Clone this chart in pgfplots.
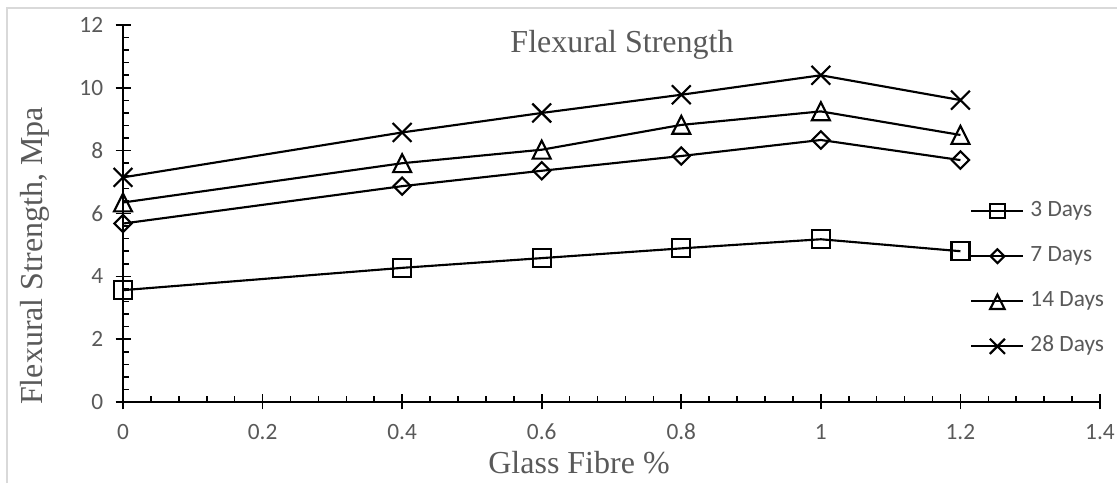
\documentclass[border=0pt]{standalone}
\usepackage{fontspec}
\setmainfont{Liberation Serif}
\newfontfamily\carlito{Carlito}
\usepackage{pgfplots}
\pgfplotsset{compat=1.18}
\definecolor{txtgray}{HTML}{595959}
\definecolor{bordergray}{HTML}{D9D9D9}
\begin{document}
\begin{tikzpicture}
\path[use as bounding box] (0,0) rectangle (837.75pt,362.25pt);
\draw[bordergray, line width=1.5pt] (5.25pt,0) -- (5.25pt,356.25pt) -- (837.75pt,356.25pt);
\begin{axis}[
  at={(92.25pt,60.75pt)}, anchor=south west,
  scale only axis, width=732.75pt, height=282.75pt,
  xmin=0, xmax=1.4, ymin=0, ymax=12,
  axis x line=bottom, axis y line=left,
  x axis line style={-, line width=1.2pt},
  y axis line style={-, line width=2pt},
  xtick distance=0.2, ytick distance=2,
  minor x tick num=4, minor y tick num=4,
  tick align=inside,
  major tick length=11.25pt, minor tick length=4.5pt,
  every major x tick/.append style={yshift=-5.6pt},
  every major y tick/.append style={xshift=-5.6pt},
  tick style={black, line width=1.2pt},
  /pgf/number format/assume math mode=true,
  ticklabel style={font=\carlito\fontsize{17.5}{20}\selectfont, text=txtgray},
  xticklabel style={yshift=-13pt},
  yticklabel style={xshift=-11.4pt},
  legend style={at={(0.867,0.5335)}, anchor=north west, draw=none, fill=none,
    font=\carlito\fontsize{17.5}{20}\selectfont, text=txtgray,
    inner sep=0pt, row sep=18.8pt,
    nodes={inner sep=0pt, text height=11.5pt, text depth=3.5pt},
    /tikz/column 1/.style={column sep=4.5pt}},
  legend cell align=left,
  legend image code/.code={\draw[mark repeat=2,mark phase=2,#1,every mark/.append style={scale=0.8}] plot coordinates {(0pt,0pt) (19.5pt,0pt) (39pt,0pt)};},
  every axis plot/.append style={black, line width=1.6pt, mark options={solid}},
]
\addplot[mark=square, mark size=6.75pt] coordinates {(0,3.56) (0.4,4.27) (0.6,4.58) (0.8,4.89) (1.0,5.18) (1.2,4.8)};
\addlegendentry{3 Days}
\addplot[mark=square, mark size=4.6pt, every mark/.append style={rotate=45}] coordinates {(0,5.68) (0.4,6.87) (0.6,7.36) (0.8,7.83) (1.0,8.34) (1.2,7.7)};
\addlegendentry{7 Days}
\addplot[mark=triangle, mark size=7.8pt, every mark/.append style={yscale=1.15, yshift=-1.9pt}] coordinates {(0,6.35) (0.4,7.6) (0.6,8.03) (0.8,8.82) (1.0,9.25) (1.2,8.5)};
\addlegendentry{14 Days}
\addplot[mark=x, mark size=10pt] coordinates {(0,7.15) (0.4,8.58) (0.6,9.2) (0.8,9.78) (1.0,10.4) (1.2,9.61)};
\addlegendentry{28 Days}
\end{axis}
\node[anchor=base, font=\fontsize{24}{28}\selectfont, text=txtgray] at (466.5pt,322.5pt) {Flexural Strength};
\node[anchor=base, font=\fontsize{24}{28}\selectfont, text=txtgray] at (434.25pt,7.5pt) {Glass Fibre \%};
\node[anchor=base, rotate=90, font=\fontsize{24}{28}\selectfont, text=txtgray] at (31.5pt,170.25pt) {Flexural Strength, Mpa};
\end{tikzpicture}
\end{document}
